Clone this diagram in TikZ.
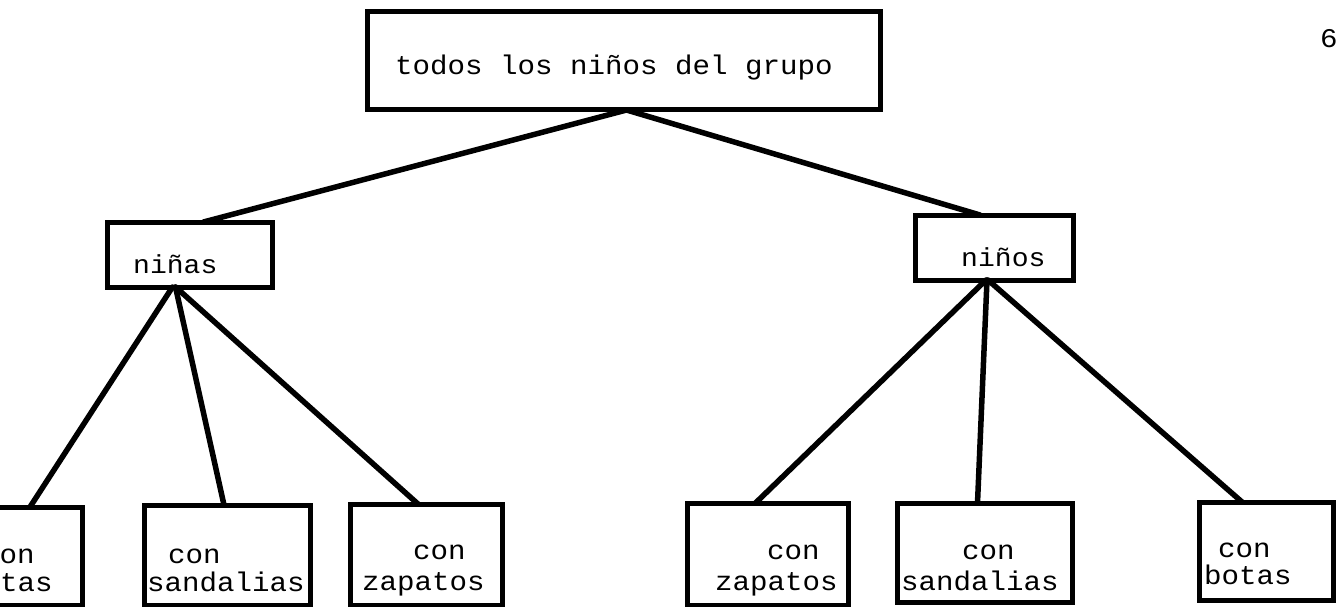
\documentclass[tikz,border=0pt]{standalone}
\usepackage{fontspec}
\usetikzlibrary{calc}
\newfontfamily\twfont{Liberation Mono}[FakeStretch=1.08]
\begin{document}
\begin{tikzpicture}[x=1pt,y=-1pt,
  box/.style={draw=black,line width=5pt,inner sep=0pt,outer sep=0pt,fill=none},
  lbl/.style={anchor=base west,inner sep=0pt,font=\twfont\fontsize{27}{32}\selectfont},
  slbl/.style={anchor=base west,inner sep=0pt,font=\twfont\fontsize{26}{31}\selectfont},
  link/.style={draw=black,line width=5.5pt,line cap=round}]
\useasboundingbox (0,0) rectangle (1340,607);
\clip (0,0) rectangle (1340,607);
% boxes
\node[box,minimum width=513pt,minimum height=98pt] (top) at (623.5,61) {};
\node[box,minimum width=165pt,minimum height=65pt] (nas) at (189.5,254.5) {};
\node[box,minimum width=158pt,minimum height=65pt] (nos) at (994,247.5) {};
\node[box,minimum width=142pt,minimum height=98pt] (botL) at (11,556) {};
\node[box,minimum width=166pt,minimum height=100pt] (sanL) at (227,555) {};
\node[box,minimum width=152pt,minimum height=101pt] (zapL) at (426,554.5) {};
\node[box,minimum width=161pt,minimum height=102pt] (zapR) at (767.5,554) {};
\node[box,minimum width=175pt,minimum height=99pt] (sanR) at (984.5,552.5) {};
\node[box,minimum width=134pt,minimum height=98pt] (botR) at (1266,551) {};
% labels
\node[lbl] (tTop) at (395,75) {todos los niños del grupo};
\node[slbl] (tNas) at (133,273) {niñas};
\node[slbl] (tNos) at (961,266) {niños};
\node[lbl] (tBotL1) at (-18,563) {con};
\node[lbl] (tBotL2) at (-35,591) {botas};
\node[lbl] (tSanL1) at (168,563) {con};
\node[lbl] (tSanL2) at (147,591) {sandalias};
\node[lbl] (tZapL1) at (413,559) {con};
\node[lbl] (tZapL2) at (362,590) {zapatos};
\node[lbl] (tZapR1) at (767,559) {con};
\node[lbl] (tZapR2) at (715,590) {zapatos};
\node[lbl] (tSanR1) at (962,559) {con};
\node[lbl] (tSanR2) at (901,590) {sandalias};
\node[lbl] (tBotR1) at (1218,557) {con};
\node[lbl] (tBotR2) at (1204,584) {botas};
\node[lbl] (page) at (1320,48) {6};
% connectors
\draw[link] ($(top.south)+(3,0)$) -- ($(nas.north)+(14,0)$);
\draw[link] ($(top.south)+(3,0)$) -- ($(nos.north)+(-14,0)$);
\draw[link] ($(nas.south)+(-17,0)$) -- ($(botL.north)+(19,0)$);
\draw[link] ($(nas.south)+(-14,0)$) -- ($(sanL.north)+(-3,0)$);
\draw[link] ($(nas.south)+(-14,0)$) -- ($(zapL.north)+(-8,0)$);
\draw[link] ($(nos.south)+(-8,0)$) -- ($(zapR.north)+(-12,0)$);
\draw[link] ($(nos.south)+(-7,0)$) -- ($(sanR.north)+(-7,0)$);
\draw[link] ($(nos.south)+(-6,0)$) -- ($(botR.north)+(-24,0)$);
\end{tikzpicture}
\end{document}
